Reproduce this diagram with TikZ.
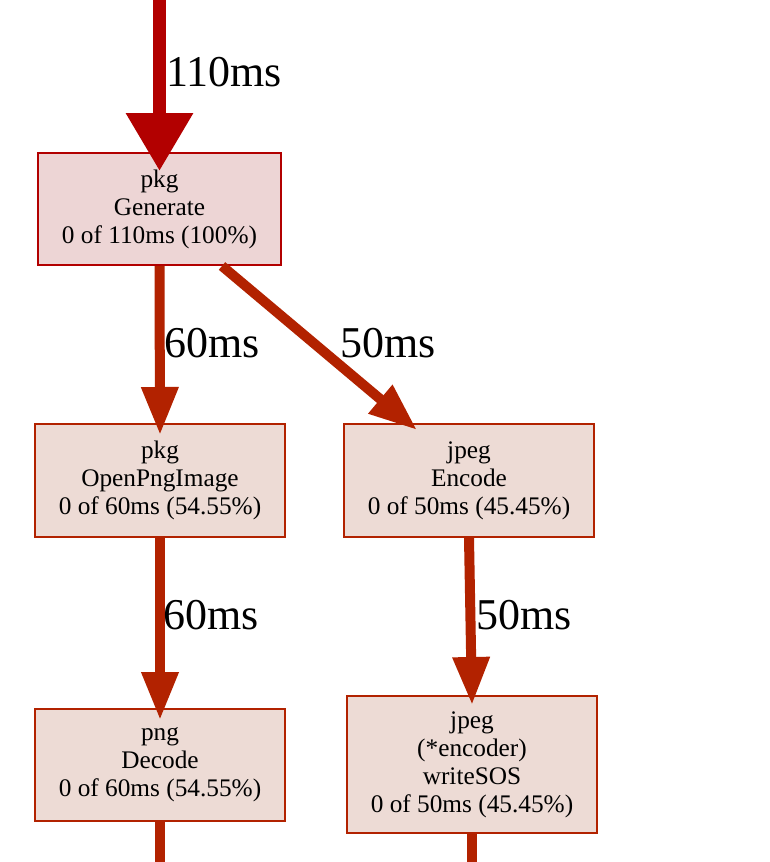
\documentclass[tikz,border=0pt]{standalone}
\usepackage{fontspec}
\setmainfont{Liberation Serif}
\usetikzlibrary{arrows.meta,calc}
\definecolor{topred}{HTML}{B20000}
\definecolor{edgered}{HTML}{B22200}
\definecolor{genfill}{HTML}{EDD5D5}
\definecolor{boxfill}{HTML}{EDDBD5}
\tikzset{
  fnode/.style={draw=edgered, fill=boxfill, line width=2pt, inner sep=0pt,
    minimum width=250pt, align=center, font=\fontsize{25.3}{28}\selectfont},
  elabel/.style={anchor=base west, inner sep=0pt, font=\fontsize{44}{50}\selectfont},
  edge/.style={draw=edgered, line width=10pt, -{Triangle[width=35pt,length=48pt]}},
  stub/.style={draw=edgered, line width=10pt},
  topedge/.style={draw=topred, line width=13pt, -{Triangle[width=64pt,length=58pt]}}
}
\begin{document}
\begin{tikzpicture}[x=1pt,y=-1pt]
\useasboundingbox (0,0) rectangle (770,862);
\node[fnode, draw=topred, fill=genfill, minimum width=243pt, minimum height=112pt] (gen) at (159.5,209) {pkg\\Generate\\0 of 110ms (100\%)};
\node[fnode, minimum height=113pt] (open) at (160,480.5) {pkg\\OpenPngImage\\0 of 60ms (54.55\%)};
\node[fnode, minimum height=113pt] (enc) at (469,480.5) {jpeg\\Encode\\0 of 50ms (45.45\%)};
\node[fnode, minimum height=112pt] (dec) at (160,765) {png\\Decode\\0 of 60ms (54.55\%)};
\node[fnode, minimum height=137pt] (wsos) at (472,764.5) {jpeg\\(*encoder)\\writeSOS\\0 of 50ms (45.45\%)};
\coordinate (topin) at (159.5,0);
\coordinate (decout) at (160,862);
\coordinate (wsosout) at (472,862);
\draw[topedge] (topin) -- ($(gen.north)+(0,19)$);
\draw[edge] (gen.south) -- ($(open.north)+(0,12)$);
\draw[edge] ($(gen.south)+(62.5,0)$) -- ($(enc.north)+(-52,7)$);
\draw[edge] (open.south) -- ($(dec.north)+(0,12)$);
\draw[edge] (enc.south) -- ($(wsos.north)+(0,10)$);
\draw[stub] (dec.south) -- (decout);
\draw[stub] (wsos.south) -- (wsosout);
\node[elabel] (l110) at (166,86) {110ms};
\node[elabel] (l60a) at (164,357) {60ms};
\node[elabel] (l50a) at (340,357) {50ms};
\node[elabel] (l60b) at (163,629) {60ms};
\node[elabel] (l50b) at (476,629) {50ms};
\end{tikzpicture}
\end{document}
